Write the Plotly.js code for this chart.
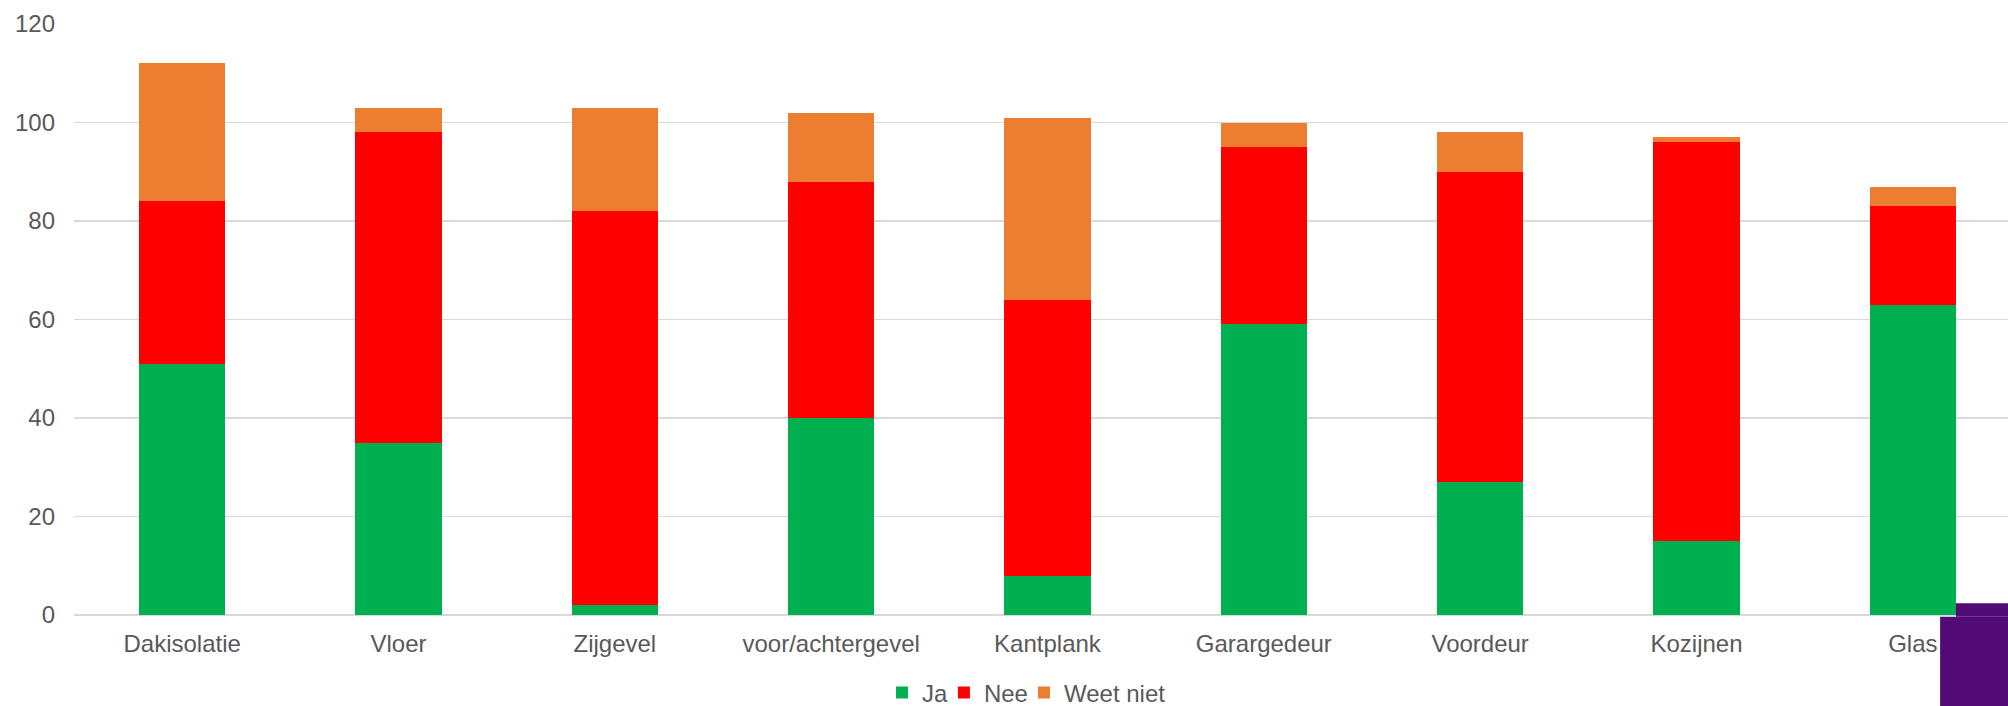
<!DOCTYPE html>
<html>
<head>
<meta charset="utf-8">
<script src="https://cdn.plot.ly/plotly-3.0.1.min.js"></script>
<style>
html, body { margin: 0; padding: 0; background: #ffffff; overflow: hidden; }
#chart { width: 2008px; height: 706px; }
</style>
</head>
<body>
<div id="chart"></div>
<script>
// Categories (x-axis tick labels)
var categories = ["Dakisolatie", "Vloer", "Zijgevel", "voor/achtergevel", "Kantplank", "Garargedeur", "Voordeur", "Kozijnen", "Glas"];

// Series values
var ja        = [51, 35,  2, 40,  8, 59, 27, 15, 63];
var nee       = [33, 63, 80, 48, 56, 36, 63, 81, 20];
var weetNiet  = [28,  5, 21, 14, 37,  5,  8,  1,  4];

// Series names
var seriesNames = ["Ja", "Nee", "Weet niet"];

// Y-axis ticks
var yTicks = [0, 20, 40, 60, 80, 100, 120];

var colors = ["#00B050", "#FF0000", "#ED7D31"];
var seriesValues = [ja, nee, weetNiet];
var legendIds = ["legend", "legend2", "legend3"];
var legendX = [0.4178, 0.4498, 0.4912];

var traces = seriesValues.map(function (vals, i) {
  return {
    type: "bar",
    name: seriesNames[i],
    x: categories,
    y: vals,
    legend: legendIds[i],
    marker: { color: colors[i], line: { width: 0 } },
    hoverinfo: "x+y+name"
  };
});

var font = { family: "Liberation Sans, Arial, sans-serif", size: 24, color: "#595959" };

function legendOpts(x) {
  return {
    orientation: "h",
    xref: "paper",
    x: x,
    xanchor: "left",
    yref: "container",
    y: 0.0184,
    yanchor: "middle",
    font: font,
    itemwidth: 30,
    bgcolor: "rgba(0,0,0,0)"
  };
}

var layout = {
  width: 2008,
  height: 706,
  margin: { l: 74, r: 0, t: 24, b: 91, pad: 0, autoexpand: false },
  paper_bgcolor: "#ffffff",
  plot_bgcolor: "#ffffff",
  barmode: "stack",
  bargap: 0.6,
  font: font,
  showlegend: true,
  legend: legendOpts(legendX[0]),
  legend2: legendOpts(legendX[1]),
  legend3: legendOpts(legendX[2]),
  xaxis: {
    type: "category",
    range: [-0.5, 8.44],
    showgrid: false,
    zeroline: false,
    showline: false,
    ticks: "",
    tickfont: font,
    ticklabelstandoff: 12,
    automargin: false,
    fixedrange: true
  },
  yaxis: {
    range: [0, 120],
    tickvals: yTicks,
    ticktext: yTicks.map(String),
    showgrid: true,
    gridcolor: "#D9D9D9",
    gridwidth: 1.6,
    zeroline: true,
    zerolinecolor: "#D9D9D9",
    zerolinewidth: 1.6,
    showline: false,
    ticks: "",
    tickfont: font,
    ticklabelstandoff: 18,
    automargin: false,
    fixedrange: true
  },
  shapes: [
    { type: "rect", xref: "paper", yref: "paper", x0: 0.9649, x1: 1.02, y0: -0.003, y1: -0.2,
      fillcolor: "#520A77", line: { width: 0 }, layer: "above" },
    { type: "rect", xref: "paper", yref: "paper", x0: 0.9731, x1: 1.02, y0: 0.0198, y1: -0.003,
      fillcolor: "#520A77", line: { width: 0 }, layer: "above" }
  ]
};

Plotly.newPlot("chart", traces, layout, { displayModeBar: false, staticPlot: true });
</script>
</body>
</html>
